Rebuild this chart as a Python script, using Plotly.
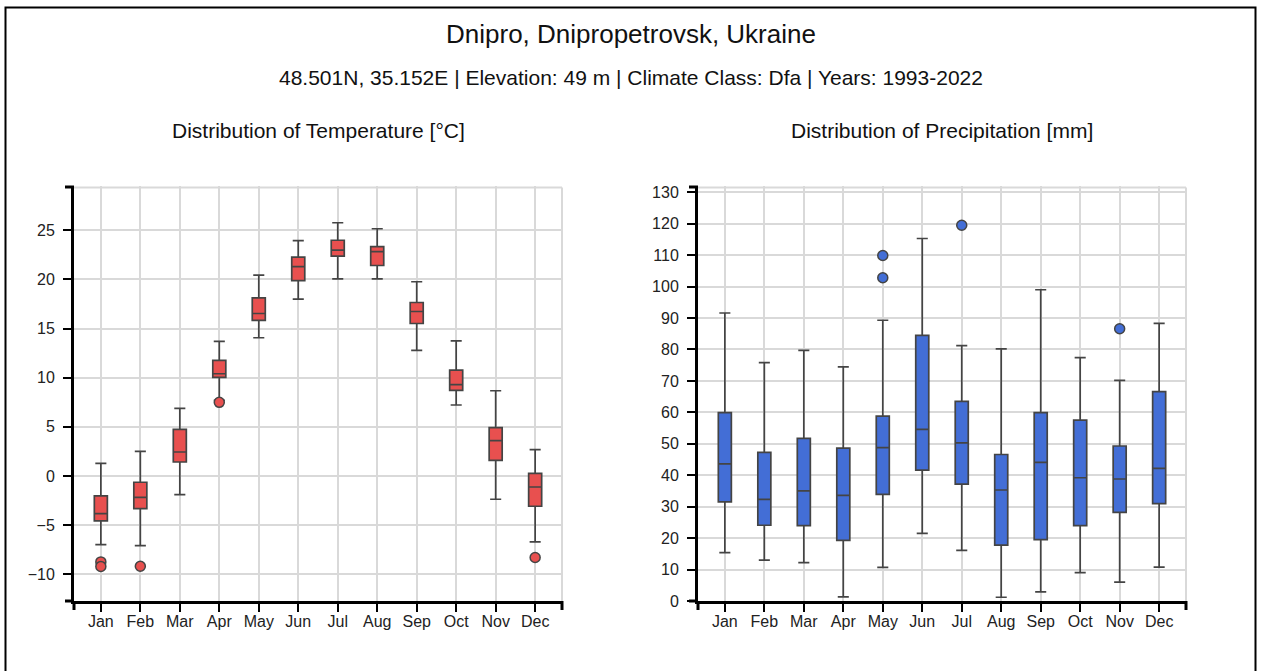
import plotly.graph_objects as go

W, H = 1264, 671

months = ["Jan", "Feb", "Mar", "Apr", "May", "Jun",
          "Jul", "Aug", "Sep", "Oct", "Nov", "Dec"]

# Monthly mean temperature distribution [°C]
temp_lower = [-6.98, -7.08, -1.90, 7.70, 14.06, 17.99, 20.05, 20.05, 12.77, 7.22, -2.37, -6.71]
temp_q1 = [-4.57, -3.32, 1.42, 10.03, 15.82, 19.88, 22.36, 21.41, 15.51, 8.71, 1.59, -3.08]
temp_median = [-3.83, -2.17, 2.44, 10.40, 16.53, 21.30, 22.97, 22.83, 16.73, 9.30, 3.59, -1.12]
temp_q3 = [-2.03, -0.64, 4.75, 11.76, 18.12, 22.26, 23.98, 23.34, 17.65, 10.77, 4.91, 0.27]
temp_upper = [1.29, 2.51, 6.88, 13.69, 20.43, 23.95, 25.76, 25.15, 19.76, 13.75, 8.67, 2.68]
temp_out_month = ["Jan", "Jan", "Feb", "Apr", "Dec"]
temp_out_value = [-8.74, -9.20, -9.18, 7.49, -8.30]

# Monthly precipitation distribution [mm]
prec_lower = [15.4, 13.0, 12.2, 1.3, 10.7, 21.5, 16.1, 1.2, 2.9, 9.0, 6.0, 10.8]
prec_q1 = [31.5, 24.1, 24.0, 19.3, 33.9, 41.6, 37.2, 17.8, 19.5, 24.0, 28.2, 31.0]
prec_median = [43.6, 32.3, 35.0, 33.6, 48.8, 54.6, 50.3, 35.3, 44.1, 39.2, 38.8, 42.2]
prec_q3 = [59.9, 47.3, 51.7, 48.6, 58.8, 84.5, 63.5, 46.6, 59.9, 57.5, 49.3, 66.6]
prec_upper = [91.6, 75.8, 79.7, 74.5, 89.3, 115.3, 81.2, 80.2, 99.0, 77.4, 70.2, 88.3]
prec_out_month = ["May", "May", "Jul", "Nov"]
prec_out_value = [109.9, 102.8, 119.5, 86.6]

title = "Dnipro, Dnipropetrovsk, Ukraine"
subtitle = "48.501N, 35.152E | Elevation: 49 m | Climate Class: Dfa | Years: 1993-2022"
temp_title = "Distribution of Temperature [°C]"
prec_title = "Distribution of Precipitation [mm]"

RED = "#e8504f"
BLUE = "#436ed6"
EDGE = "#444444"
GRID = "#d9d9d9"
FONT = "Arial, Liberation Sans, sans-serif"


def px_x(p):
    return p / W


def px_y(p):
    return 1 - p / H


# panel geometry in pixels
TOP, BOTTOM = 186, 601
LEFT_PANEL = (74, 562)
RIGHT_PANEL = (698, 1186)

fig = go.Figure()


def add_panel(xa, ya, q1, med, q3, lo, hi, out_x, out_y, color):
    fig.add_trace(go.Box(
        x=months, q1=q1, median=med, q3=q3, lowerfence=lo, upperfence=hi,
        xaxis=xa, yaxis=ya, width=0.33, whiskerwidth=0.85,
        fillcolor=color, line=dict(color=EDGE, width=1.7),
        boxpoints=False, showlegend=False, hoverinfo="skip",
    ))
    fig.add_trace(go.Scatter(
        x=out_x, y=out_y, mode="markers", xaxis=xa, yaxis=ya,
        marker=dict(size=10, color=color, line=dict(color=EDGE, width=1.5)),
        showlegend=False, hoverinfo="skip",
    ))


add_panel("x", "y", temp_q1, temp_median, temp_q3, temp_lower, temp_upper,
          temp_out_month, temp_out_value, RED)
add_panel("x2", "y2", prec_q1, prec_median, prec_q3, prec_lower, prec_upper,
          prec_out_month, prec_out_value, BLUE)

tick_font = dict(family=FONT, size=16, color="#222")
xaxis_common = dict(
    type="category", categoryorder="array", categoryarray=months,
    range=[-0.68, 11.68], showgrid=True, gridcolor=GRID, gridwidth=1.6,
    showline=True, linecolor="black", linewidth=3,
    ticks="outside", ticklen=8, tickwidth=2, tickcolor="black",
    tickfont=tick_font, ticklabelstandoff=-4,
    automargin=False, fixedrange=True,
)
yaxis_common = dict(
    showgrid=True, gridcolor=GRID, gridwidth=1.6, zeroline=False,
    showline=True, linecolor="black", linewidth=3,
    ticks="outside", ticklen=8, tickwidth=2, tickcolor="black",
    tickfont=tick_font, ticklabelstandoff=5,
    automargin=False, fixedrange=True,
)

ydom = [px_y(BOTTOM), px_y(TOP)]
fig.update_layout(
    width=W, height=H,
    margin=dict(l=0, r=0, t=0, b=0),
    paper_bgcolor="white", plot_bgcolor="white",
    template="none",
    xaxis=dict(domain=[px_x(LEFT_PANEL[0]), px_x(LEFT_PANEL[1])], anchor="y", **xaxis_common),
    yaxis=dict(domain=ydom, anchor="x", range=[-12.72, 29.5], dtick=5, tick0=0, **yaxis_common),
    xaxis2=dict(domain=[px_x(RIGHT_PANEL[0]), px_x(RIGHT_PANEL[1])], anchor="y2", **xaxis_common),
    yaxis2=dict(domain=ydom, anchor="x2", range=[0, 132], dtick=10, tick0=0, **yaxis_common),
    font=dict(family=FONT, color="#111"),
)

# outer frame
fig.add_shape(type="rect", xref="paper", yref="paper",
              x0=px_x(5.5), x1=px_x(1255.5), y0=px_y(700), y1=px_y(7.5),
              line=dict(color="black", width=2), layer="above")

# light frame on top and right of each panel, plus axis end ticks
for (l, r) in (LEFT_PANEL, RIGHT_PANEL):
    fig.add_shape(type="line", xref="paper", yref="paper",
                  x0=px_x(l), x1=px_x(r), y0=px_y(TOP + 1.5), y1=px_y(TOP + 1.5),
                  line=dict(color=GRID, width=2), layer="below")
    fig.add_shape(type="line", xref="paper", yref="paper",
                  x0=px_x(r), x1=px_x(r), y0=px_y(BOTTOM), y1=px_y(TOP + 1.5),
                  line=dict(color=GRID, width=2), layer="below")
    for yy in (TOP + 1, BOTTOM):
        fig.add_shape(type="line", xref="paper", yref="paper",
                      x0=px_x(l - 9), x1=px_x(l), y0=px_y(yy), y1=px_y(yy),
                      line=dict(color="black", width=3), layer="above")
    for xx in (l, r):
        fig.add_shape(type="line", xref="paper", yref="paper",
                      x0=px_x(xx), x1=px_x(xx), y0=px_y(BOTTOM), y1=px_y(BOTTOM + 9),
                      line=dict(color="black", width=3), layer="above")

annotations = [
    dict(text=title, x=px_x(630.5), y=px_y(34), font=dict(size=26)),
    dict(text=subtitle, x=px_x(630.5), y=px_y(77), font=dict(size=21)),
    dict(text=temp_title, x=px_x(sum(LEFT_PANEL) / 2), y=px_y(130), font=dict(size=21)),
    dict(text=prec_title, x=px_x(sum(RIGHT_PANEL) / 2), y=px_y(130), font=dict(size=21)),
]
for a in annotations:
    fig.add_annotation(xref="paper", yref="paper", showarrow=False,
                       xanchor="center", yanchor="middle",
                       font_family=FONT, font_color="#111", **a)

fig.write_html("out.html", config={"displayModeBar": False})
